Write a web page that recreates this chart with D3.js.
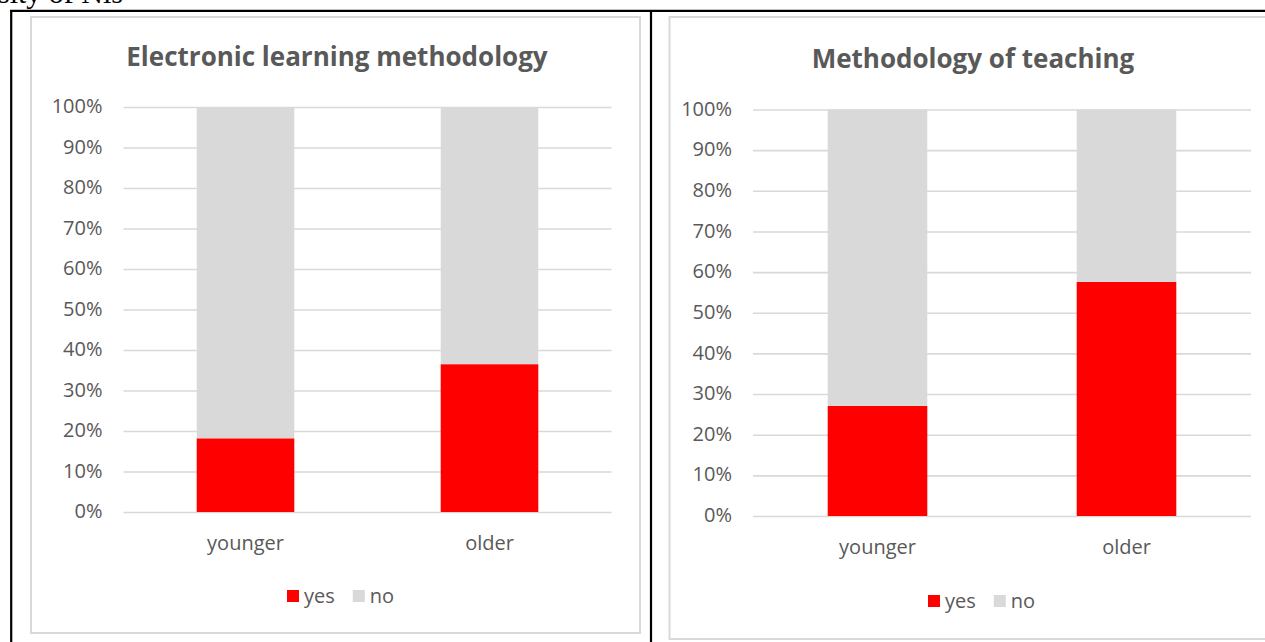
<!DOCTYPE html>
<html lang="en">
<head>
<meta charset="utf-8" />
<title>Methodology charts</title>
<style>
html, body {
	margin: 0;
	padding: 0;
	background: #fff;
}
svg {
	display: block;
}
.tick text, .cat, .legend text {
	font-family: "Open Sans", sans-serif;
	font-size: 20px;
	fill: #595959;
}
.title {
	font-family: "Open Sans", sans-serif;
	font-weight: 700;
	font-size: 26px;
	fill: #595959;
	text-anchor: middle;
}
</style>
</head>
<body>
<svg width="1265" height="642"></svg>

<script src="https://cdn.jsdelivr.net/npm/d3@7/dist/d3.min.js"></script>
<script>
// data (percent)
var categories = ["younger", "older"];
var seriesNames = ["yes", "no"];
var seriesColors = ["#ff0000", "#d9d9d9"];
var yTicks = [0, 10, 20, 30, 40, 50, 60, 70, 80, 90, 100];

var elearnTitle = "Electronic learning methodology";
var elearnYes = [18.2, 36.5];
var elearnNo = [81.8, 63.5];

var teachTitle = "Methodology of teaching";
var teachYes = [27.1, 57.6];
var teachNo = [72.9, 42.4];

var svg = d3.select("svg");

// document text cut off at the top
svg.append("text")
	.attr("x", -2)
	.attr("y", 3)
	.style("font-family", "'Liberation Serif', serif")
	.style("font-size", "30px")
	.attr("fill", "#000")
	.text("sity of Nis");

// table borders
svg.append("line").attr("x1", 10).attr("x2", 1265).attr("y1", 10.8).attr("y2", 10.8)
	.attr("stroke", "#000").attr("stroke-width", 2.2);
svg.append("line").attr("x1", 11.2).attr("x2", 11.2).attr("y1", 10).attr("y2", 642)
	.attr("stroke", "#000").attr("stroke-width", 2.2);
svg.append("line").attr("x1", 651).attr("x2", 651).attr("y1", 10).attr("y2", 642)
	.attr("stroke", "#000").attr("stroke-width", 2.2);

function drawChart(cfg) {
	var g = svg.append("g");

	// chart area frame
	g.append("rect")
		.attr("x", cfg.frame[0]).attr("y", cfg.frame[1])
		.attr("width", cfg.frame[2]).attr("height", cfg.frame[3])
		.attr("fill", "#fff")
		.attr("stroke", "#d9d9d9")
		.attr("stroke-width", 2);

	g.append("text")
		.attr("class", "title")
		.attr("x", cfg.titleX)
		.attr("y", cfg.titleY)
		.text(cfg.title);

	var x = d3.scaleBand()
		.domain(categories)
		.range([cfg.x0, cfg.x1])
		.paddingInner(0.6)
		.paddingOuter(0.3);

	var y = d3.scaleLinear()
		.domain([0, 100])
		.range([cfg.y0, cfg.y1]);

	// gridlines + y labels
	var yAxis = g.append("g")
		.attr("transform", "translate(" + cfg.x0 + ",0)")
		.call(d3.axisLeft(y)
			.tickValues(yTicks)
			.tickSize(-(cfg.x1 - cfg.x0))
			.tickPadding(21)
			.tickFormat(function(d) { return d + "%"; }));
	yAxis.select(".domain").remove();
	yAxis.selectAll(".tick line")
		.attr("stroke", "#d9d9d9")
		.attr("stroke-width", 1.6);
	yAxis.selectAll(".tick text").attr("dy", "0.28em");

	// stacked bars
	var rows = categories.map(function(c, i) {
		return { cat: c, yes: cfg.yes[i], no: cfg.no[i] };
	});
	var stacked = d3.stack().keys(seriesNames)(rows);

	g.selectAll("g.layer")
		.data(stacked)
		.enter()
		.append("g")
		.attr("class", "layer")
		.attr("fill", function(d, i) { return seriesColors[i]; })
		.selectAll("rect")
		.data(function(d) { return d; })
		.enter()
		.append("rect")
		.attr("x", function(d) { return x(d.data.cat); })
		.attr("width", x.bandwidth())
		.attr("y", function(d) { return y(d[1]); })
		.attr("height", function(d) { return y(d[0]) - y(d[1]); });

	// category labels
	var xAxis = g.append("g")
		.attr("transform", "translate(0," + cfg.y0 + ")")
		.call(d3.axisBottom(x).tickSize(0).tickPadding(24));
	xAxis.select(".domain").remove();

	// legend
	var leg = g.append("g")
		.attr("class", "legend")
		.attr("transform", "translate(" + cfg.legendX + "," + cfg.legendY + ")");
	var offset = 0;
	seriesNames.forEach(function(name, i) {
		leg.append("rect")
			.attr("x", offset).attr("y", -6)
			.attr("width", 12).attr("height", 12)
			.attr("fill", seriesColors[i]);
		var t = leg.append("text")
			.attr("x", offset + 17)
			.attr("y", 7)
			.text(name);
		offset += 17 + t.node().getComputedTextLength() + 18;
	});
}

drawChart({
	title: elearnTitle, yes: elearnYes, no: elearnNo,
	frame: [31, 17, 609, 616],
	titleX: 337, titleY: 66,
	x0: 123.5, x1: 611.5, y0: 512, y1: 107,
	legendX: 287, legendY: 596
});

drawChart({
	title: teachTitle, yes: teachYes, no: teachNo,
	frame: [669.5, 17, 630, 622],
	titleX: 973, titleY: 68,
	x0: 753, x1: 1251, y0: 516, y1: 109.5,
	legendX: 928, legendY: 601
});
</script>
</body>
</html>
